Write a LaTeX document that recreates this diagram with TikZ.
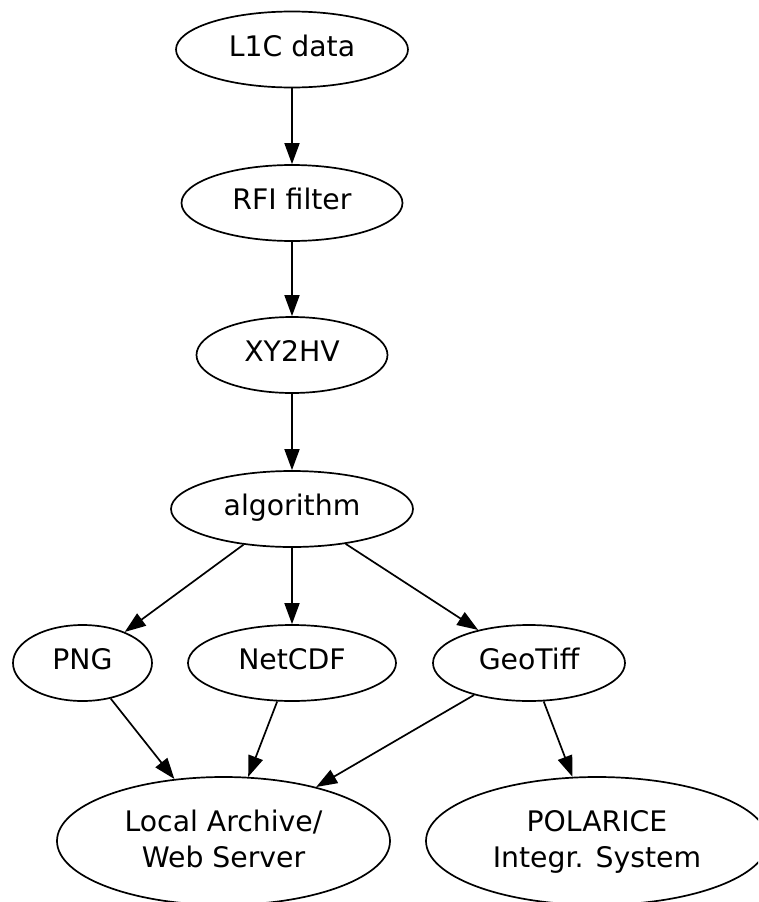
\documentclass[tikz,border=0pt]{standalone}
\usepackage{fontspec}
\setmainfont{DejaVu Sans}
\usetikzlibrary{shapes.geometric,arrows.meta}
\begin{document}
\begin{tikzpicture}[x=1pt,y=-1pt,
  box/.style={ellipse, draw, line width=1.7pt, inner sep=0pt,
    minimum height=76pt, font=\fontsize{28.3}{36}\selectfont,
    text height=21pt, text depth=8pt},
  tall/.style={minimum height=128pt, text height=57pt, text depth=4pt, align=center},
  link/.style={line width=1.7pt, -{Triangle[length=21pt,width=15pt]}}]
\clip (0,0) rectangle (758,902);
% processing chain
\node[box, minimum width=232pt] (l1c)  at (292,49.5) {L1C data};
\node[box, minimum width=221pt] (rfi)  at (292,203) {RFI filter};
\node[box, minimum width=191pt] (xy)   at (292,355) {XY2HV};
\node[box, minimum width=242pt] (alg)  at (292,509) {algorithm};
% output formats
\node[box, minimum width=139pt] (png)  at (82.5,663) {PNG};
\node[box, minimum width=208pt] (nc)   at (292,663) {NetCDF};
\node[box, minimum width=192pt] (geo)  at (529,663) {GeoTiff};
% destinations
\node[box, tall, minimum width=333pt] (arch) at (223.5,841) {Local Archive/\\Web Server};
\node[box, tall, minimum width=342pt] (pol)  at (597,841) {POLARICE\\Integr. System};
% connectors
\draw[link] (l1c) -- (rfi);
\draw[link] (rfi) -- (xy);
\draw[link] (xy) -- (alg);
\draw[link] (alg) -- (png);
\draw[link] (alg) -- (nc);
\draw[link] (alg) -- (geo);
\draw[link] (png) -- (arch);
\draw[link] (nc) -- (arch);
\draw[link] (geo) -- (arch);
\draw[link] (geo) -- (pol);
\end{tikzpicture}
\end{document}
